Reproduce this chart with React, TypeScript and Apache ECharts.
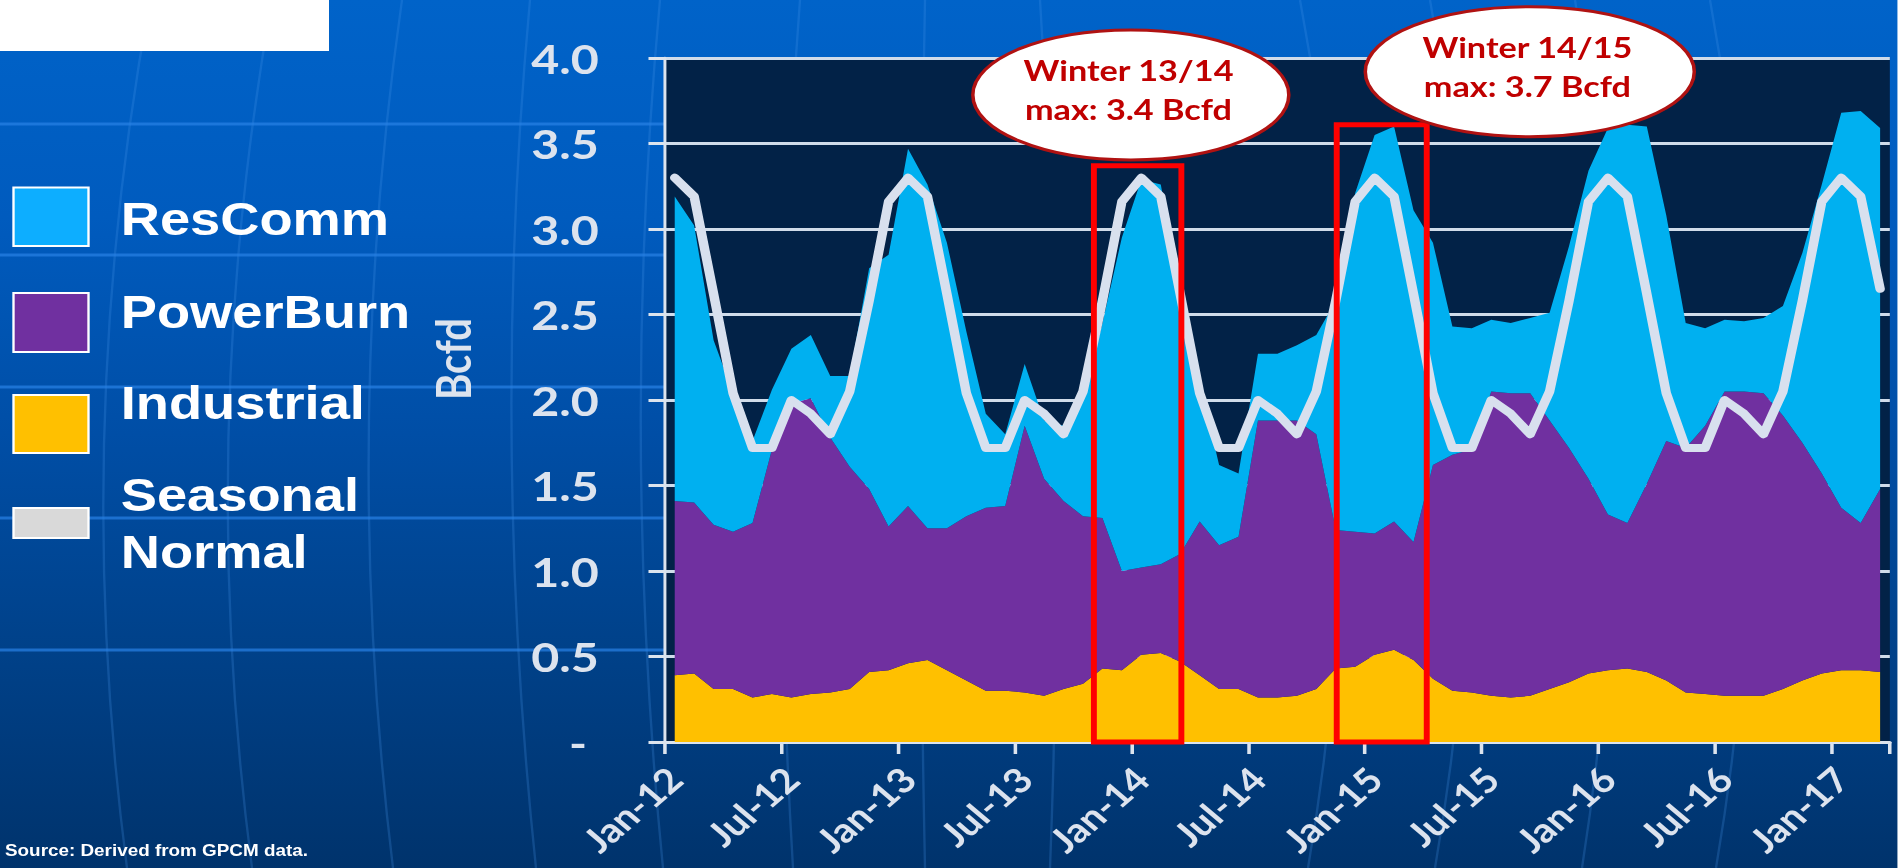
import React, { useEffect, useRef } from 'react';
import * as echarts from 'echarts';

// The reference picture is horizontally stretched; we draw in an unstretched frame and scale it.
const SX = 1.18;
const PAGE_W = 1898;
const PAGE_H = 868;
const CHART_W = PAGE_W / SX;

const months = [
  'Jan-12', 'Feb-12', 'Mar-12', 'Apr-12', 'May-12', 'Jun-12', 'Jul-12', 'Aug-12', 'Sep-12', 'Oct-12', 'Nov-12', 'Dec-12',
  'Jan-13', 'Feb-13', 'Mar-13', 'Apr-13', 'May-13', 'Jun-13', 'Jul-13', 'Aug-13', 'Sep-13', 'Oct-13', 'Nov-13', 'Dec-13',
  'Jan-14', 'Feb-14', 'Mar-14', 'Apr-14', 'May-14', 'Jun-14', 'Jul-14', 'Aug-14', 'Sep-14', 'Oct-14', 'Nov-14', 'Dec-14',
  'Jan-15', 'Feb-15', 'Mar-15', 'Apr-15', 'May-15', 'Jun-15', 'Jul-15', 'Aug-15', 'Sep-15', 'Oct-15', 'Nov-15', 'Dec-15',
  'Jan-16', 'Feb-16', 'Mar-16', 'Apr-16', 'May-16', 'Jun-16', 'Jul-16', 'Aug-16', 'Sep-16', 'Oct-16', 'Nov-16', 'Dec-16',
  'Jan-17', 'Feb-17', 'Mar-17',
];

const industrial = [
  0.39, 0.40, 0.31, 0.31, 0.26, 0.28, 0.26, 0.28, 0.29, 0.31, 0.41, 0.42,
  0.46, 0.48, 0.42, 0.36, 0.30, 0.30, 0.29, 0.27, 0.31, 0.34, 0.43, 0.42,
  0.51, 0.52, 0.47, 0.39, 0.31, 0.31, 0.26, 0.26, 0.27, 0.31, 0.43, 0.44,
  0.51, 0.54, 0.48, 0.37, 0.30, 0.29, 0.27, 0.26, 0.27, 0.31, 0.35, 0.40,
  0.42, 0.43, 0.41, 0.36, 0.29, 0.28, 0.27, 0.27, 0.27, 0.31, 0.36, 0.40,
  0.42, 0.42, 0.41,
];

const powerBurn = [
  1.02, 1.00, 0.96, 0.92, 1.02, 1.43, 1.72, 1.73, 1.49, 1.30, 1.07, 0.84,
  0.92, 0.77, 0.83, 0.96, 1.07, 1.08, 1.56, 1.27, 1.10, 0.98, 0.88, 0.58,
  0.51, 0.52, 0.63, 0.90, 0.84, 0.89, 1.62, 1.62, 1.61, 1.49, 0.81, 0.79,
  0.71, 0.75, 0.69, 1.25, 1.38, 1.42, 1.78, 1.78, 1.77, 1.57, 1.37, 1.14,
  0.91, 0.85, 1.10, 1.40, 1.43, 1.57, 1.78, 1.78, 1.77, 1.60, 1.39, 1.17,
  0.95, 0.86, 1.07,
];

const resComm = [
  1.78, 1.62, 1.08, 0.81, 0.48, 0.35, 0.32, 0.37, 0.36, 0.53, 1.29, 1.59,
  2.09, 2.01, 1.67, 1.08, 0.55, 0.42, 0.36, 0.34, 0.44, 0.68, 1.14, 1.95,
  2.27, 2.22, 1.55, 0.82, 0.47, 0.37, 0.39, 0.39, 0.44, 0.58, 1.34, 1.98,
  2.33, 2.31, 1.94, 1.30, 0.75, 0.71, 0.42, 0.41, 0.44, 0.63, 1.18, 1.80,
  2.26, 2.33, 2.09, 1.32, 0.73, 0.57, 0.42, 0.41, 0.44, 0.64, 1.11, 1.69,
  2.31, 2.41, 2.11,
];

const seasonalNormal = [
  3.30, 3.19, 2.62, 2.04, 1.72, 1.72, 2.00, 1.92, 1.80, 2.05, 2.58, 3.16,
  3.30, 3.19, 2.62, 2.04, 1.72, 1.72, 2.00, 1.92, 1.80, 2.05, 2.58, 3.16,
  3.30, 3.19, 2.62, 2.04, 1.72, 1.72, 2.00, 1.92, 1.80, 2.05, 2.58, 3.16,
  3.30, 3.19, 2.62, 2.04, 1.72, 1.72, 2.00, 1.92, 1.80, 2.05, 2.58, 3.16,
  3.30, 3.19, 2.62, 2.04, 1.72, 1.72, 2.00, 1.92, 1.80, 2.05, 2.58, 3.16,
  3.30, 3.19, 2.65,
];

const legendNames = ['ResComm', 'PowerBurn', 'Industrial', 'Seasonal', 'Normal'];
const annotationLines = [
  ['Winter 13/14', 'max: 3.4 Bcfd'],
  ['Winter 14/15', 'max: 3.7 Bcfd'],
];

const C_RES = '#00B0F0';
const C_POWER = '#7030A0';
const C_IND = '#FFC000';
const C_NORMAL = '#D8E0EE';
const C_LABEL = '#DCE3EE';
const C_AXIS = '#DCE4EE';

export default function App() {
  const ref = useRef<HTMLDivElement>(null);

  useEffect(() => {
    const el = ref.current;
    if (!el) return;
    const chart = echarts.init(el, null, { renderer: 'svg' });

    const gridLeft = 665 / SX;
    const gridRightEdge = 1890.4 / SX;

    chart.setOption({
      animation: false,
      grid: {
        left: gridLeft,
        right: CHART_W - gridRightEdge,
        top: 58,
        bottom: PAGE_H - 742,
        containLabel: false,
        outerBoundsMode: 'none',
      },
      xAxis: {
        type: 'category',
        data: months,
        boundaryGap: true,
        axisLine: { show: true, lineStyle: { color: C_AXIS, width: 3 } },
        axisTick: { show: true, interval: 5, length: 12, lineStyle: { color: C_AXIS, width: 3 } },
        axisLabel: {
          interval: 5,
          rotate: 45,
          margin: 31,
          padding: [41, 0, 0, 0],
          color: C_LABEL,
          fontFamily: 'Lato',
          fontWeight: 'bold',
          fontSize: 34,
        },
        splitLine: { show: false },
      },
      yAxis: {
        type: 'value',
        min: 0,
        max: 4,
        interval: 0.5,
        axisLine: { show: true, lineStyle: { color: C_AXIS, width: 2.5 } },
        axisTick: { show: true, length: 14, lineStyle: { color: C_AXIS, width: 3 } },
        axisLabel: {
          margin: 56,
          color: C_LABEL,
          fontFamily: 'Lato',
          fontWeight: 'bold',
          fontSize: 41,
          formatter: (v: number) => (v === 0 ? '{d|-}' : v.toFixed(1)),
          rich: {
            d: { padding: [0, 10, 0, 0], color: C_LABEL, fontFamily: 'Lato', fontWeight: 'bold', fontSize: 41 },
          },
        },
        splitLine: { show: true, lineStyle: { color: '#D0DCEA', width: 3 } },
      },
      series: [
        {
          name: 'Industrial', type: 'line', stack: 'total', data: industrial, symbol: 'none',
          lineStyle: { width: 0, opacity: 0 }, areaStyle: { color: C_IND, opacity: 1 }, itemStyle: { color: C_IND }, z: 2,
        },
        {
          name: 'PowerBurn', type: 'line', stack: 'total', data: powerBurn, symbol: 'none',
          lineStyle: { width: 0, opacity: 0 }, areaStyle: { color: C_POWER, opacity: 1 }, itemStyle: { color: C_POWER }, z: 2,
        },
        {
          name: 'ResComm', type: 'line', stack: 'total', data: resComm, symbol: 'none',
          lineStyle: { width: 0, opacity: 0 }, areaStyle: { color: C_RES, opacity: 1 }, itemStyle: { color: C_RES }, z: 2,
        },
        {
          name: 'Seasonal Normal', type: 'line', data: seasonalNormal, symbol: 'none',
          lineStyle: { color: C_NORMAL, width: 8, cap: 'round', join: 'round' }, itemStyle: { color: C_NORMAL }, z: 5,
        },
      ],
    });

    const p0 = chart.convertToPixel({ xAxisIndex: 0 }, 0) as number;
    const p1 = chart.convertToPixel({ xAxisIndex: 0 }, 1) as number;
    const X = (idx: number) => p0 + (p1 - p0) * idx;
    const Y = (v: number) => chart.convertToPixel({ yAxisIndex: 0 }, v) as number;

    const bg = new echarts.graphic.LinearGradient(0, 0, 0, 1, [
      { offset: 0, color: '#0063C9' },
      { offset: 0.25, color: '#005BBE' },
      { offset: 0.5, color: '#004EA6' },
      { offset: 0.75, color: '#004189' },
      { offset: 1, color: '#00336C' },
    ]);

    const bandYs = [124, 255, 387, 518, 650];
    const meridians = [
      [150, 70, 127], [272, 195, 252], [402, 340, 393], [530, 490, 536], [660, 620, 663],
      [800, 767, 793], [925, 916, 925], [1040, 1067, 1050], [1300, 1382, 1308],
      [1430, 1510, 1435], [1575, 1650, 1582], [1710, 1790, 1716],
    ];

    const graphics: any[] = [];
    graphics.push({ type: 'rect', silent: true, z: -100, shape: { x: 0, y: 0, width: CHART_W, height: PAGE_H }, style: { fill: bg } });
    meridians.forEach(([a, c, b]) => {
      graphics.push({
        type: 'bezierCurve', silent: true, z: -95,
        shape: { x1: a / SX, y1: 0, cpx1: c / SX, cpy1: PAGE_H / 2, x2: b / SX, y2: PAGE_H },
        style: { stroke: 'rgba(70,150,235,0.24)', lineWidth: 2, fill: 'none' },
      });
    });
    bandYs.forEach((y) => {
      graphics.push({
        type: 'line', silent: true, z: -90,
        shape: { x1: 0, y1: y, x2: X(-0.5), y2: y },
        style: { stroke: 'rgba(40,130,230,0.7)', lineWidth: 3 },
      });
    });
    graphics.push({
      type: 'rect', silent: true, z: -80,
      shape: { x: X(-0.5), y: Y(4), width: X(62.5) - X(-0.5), height: Y(0) - Y(4) },
      style: { fill: '#022247' },
    });

    // white block top-left
    graphics.push({ type: 'rect', silent: true, z: 10, shape: { x: 0, y: 0, width: 329 / SX, height: 51 }, style: { fill: '#FFFFFF' } });

    // legend
    const boxes = [
      { y: 187.5, h: 58.5, fill: '#0DAEFF' },
      { y: 293, h: 59, fill: C_POWER },
      { y: 395, h: 58, fill: C_IND },
      { y: 508, h: 30, fill: '#D9D9D9' },
    ];
    boxes.forEach((b) => {
      graphics.push({
        type: 'rect', silent: true, z: 10,
        shape: { x: 13.5 / SX, y: b.y, width: 75 / SX, height: b.h },
        style: { fill: b.fill, stroke: '#FFFFFF', lineWidth: 2 },
      });
    });
    const legendY = [218.9, 311.6, 402.7, 494.9, 551.9];
    legendNames.forEach((t, i) => {
      graphics.push({
        type: 'text', silent: true, z: 10, x: 120.7 / SX, y: legendY[i],
        style: {
          text: t, fill: '#FFFFFF', fontFamily: '"Liberation Sans", Arial, sans-serif', fontWeight: 'bold', fontSize: 46,
          align: 'left', verticalAlign: 'middle',
        },
      });
    });

    // axis title
    graphics.push({
      type: 'text', silent: true, z: 10, x: 453 / SX, y: 359, rotation: Math.PI / 2,
      style: { text: 'Bcfd', fill: C_LABEL, fontFamily: 'Lato', fontWeight: 'bold', fontSize: 40, align: 'center', verticalAlign: 'middle' },
    });

    // source
    graphics.push({
      type: 'text', silent: true, z: 10, x: 5 / SX, y: 850.4,
      style: { text: 'Source: Derived from GPCM data.', fill: '#FFFFFF', fontFamily: '"Liberation Sans", Arial, sans-serif', fontWeight: 'bold', fontSize: 16, align: 'left', verticalAlign: 'middle' },
    });

    // highlight boxes
    const winterBoxes = [
      { from: 21.56, to: 26.06, top: 3.37 },
      { from: 34.05, to: 38.68, top: 3.61 },
    ];
    winterBoxes.forEach((b) => {
      graphics.push({
        type: 'rect', silent: true, z: 50,
        shape: { x: X(b.from), y: Y(b.top), width: X(b.to) - X(b.from), height: Y(0) - Y(b.top) },
        style: { fill: 'none', stroke: '#FF0000', lineWidth: 5 },
      });
    });

    // callout ellipses
    const callouts = [
      { idx: 23.46, v: 3.784, rx: 158 },
      { idx: 43.98, v: 3.92, rx: 164.5 },
    ];
    callouts.forEach((c, i) => {
      const ex = X(c.idx);
      const ey = Y(c.v);
      graphics.push({
        type: 'ellipse', silent: true, z: 60,
        shape: { cx: ex, cy: ey, rx: c.rx / SX, ry: 65 },
        style: { fill: '#FFFFFF', stroke: '#B01212', lineWidth: 3 },
      });
      annotationLines[i].forEach((t, j) => {
        graphics.push({
          type: 'text', silent: true, z: 61, x: ex - 2, y: ey + (j === 0 ? -24.5 : 14.5),
          style: { text: t, fill: '#C00000', fontFamily: 'Lato', fontWeight: 'bold', fontSize: 29, align: 'center', verticalAlign: 'middle' },
        });
      });
    });

    chart.setOption({ graphic: graphics });

    return () => {
      chart.dispose();
    };
  }, []);

  return (
    <div
      ref={ref}
      style={{
        position: 'fixed',
        left: 0,
        top: 0,
        width: CHART_W,
        height: PAGE_H,
        transform: `scaleX(${SX})`,
        transformOrigin: '0 0',
      }}
    />
  );
}
